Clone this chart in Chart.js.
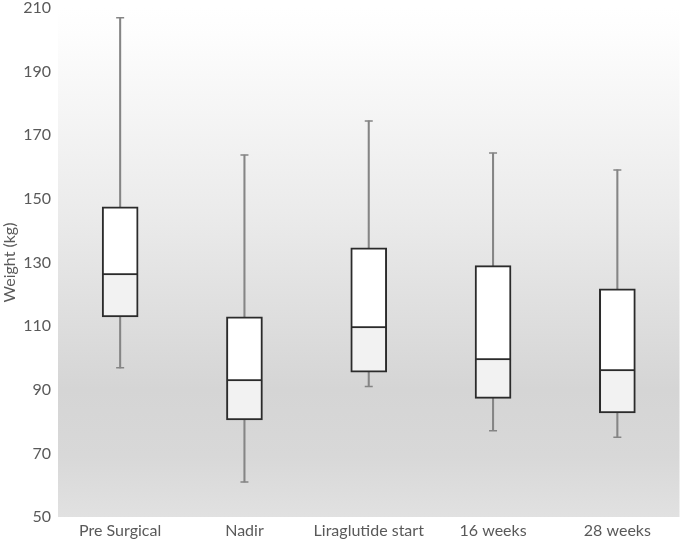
<!DOCTYPE html>
<html>
<head>
<meta charset="utf-8">
<script src="https://cdn.jsdelivr.net/npm/chart.js@4"></script>
<style>
  html, body { margin: 0; padding: 0; background: #fff; }
  #wrap { width: 685px; height: 541px; }
</style>
</head>
<body>
<div id="wrap"><canvas id="myChart"></canvas></div>
<script>
const labels = ['Pre Surgical', 'Nadir', 'Liraglutide start', '16 weeks', '28 weeks'];

// box plot values (kg)
const mins    = [96.9, 61.0, 91.0, 77.1, 75.1];
const q1s     = [112.9, 80.5, 95.5, 87.3, 82.7];
const medians = [126.1, 92.8, 109.4, 99.4, 95.9];
const q3s     = [147.5, 112.9, 134.6, 129.0, 121.7];
const maxs    = [206.9, 163.8, 174.5, 164.4, 159.1];

const yTicks = [50, 70, 90, 110, 130, 150, 170, 190, 210];

const boxBorder = '#2b2b2b';
const whiskerColor = '#858585';

const plotBackground = {
  id: 'plotBackground',
  beforeDraw(chart) {
    const { ctx, chartArea: a } = chart;
    const g = ctx.createLinearGradient(0, a.top, 0, a.bottom);
    g.addColorStop(0, '#ffffff');
    g.addColorStop(0.05, '#fdfdfd');
    g.addColorStop(0.4, '#ebebeb');
    g.addColorStop(0.75, '#d5d5d5');
    g.addColorStop(0.88, '#d8d8d8');
    g.addColorStop(1, '#e1e1e1');
    ctx.save();
    ctx.fillStyle = g;
    ctx.fillRect(a.left, a.top, a.right - a.left, a.bottom - a.top);
    ctx.restore();
  }
};

let ctx = document.querySelector('#myChart');

let grafico = new Chart(ctx, {
  type: 'bar',
  data: {
    labels: labels,
    datasets: [
      {
        type: 'line',
        label: 'max cap',
        data: maxs,
        showLine: false,
        pointStyle: 'line',
        pointRadius: 4,
        pointBorderWidth: 1.5,
        pointBorderColor: whiskerColor,
        order: 3,
      },
      {
        type: 'line',
        label: 'min cap',
        data: mins,
        showLine: false,
        pointStyle: 'line',
        pointRadius: 4,
        pointBorderWidth: 1.5,
        pointBorderColor: whiskerColor,
        order: 3,
      },
      {
        label: 'whisker',
        data: labels.map((_, i) => [mins[i], maxs[i]]),
        backgroundColor: whiskerColor,
        borderWidth: 0,
        barThickness: 1.4,
        grouped: false,
        order: 2,
      },
      {
        label: 'lower box',
        data: labels.map((_, i) => [q1s[i], medians[i]]),
        backgroundColor: '#f2f2f2',
        borderColor: boxBorder,
        borderWidth: 2,
        borderSkipped: 'top',
        barThickness: 36,
        grouped: false,
        order: 1,
      },
      {
        label: 'upper box',
        data: labels.map((_, i) => [medians[i], q3s[i]]),
        backgroundColor: '#ffffff',
        borderColor: boxBorder,
        borderWidth: 2,
        borderSkipped: false,
        barThickness: 36,
        grouped: false,
        order: 0,
      },
    ],
  },
  options: {
    responsive: true,
    maintainAspectRatio: false,
    animation: false,
    layout: { padding: { top: 8, right: 2, bottom: 0, left: 0 } },
    plugins: {
      legend: { display: false },
      tooltip: { enabled: false },
    },
    scales: {
      x: {
        grid: { display: false, drawTicks: false },
        border: { display: false },
        afterFit: (scale) => {
          scale.height = 24;
          scale.paddingLeft = 0;
          scale.paddingRight = 0;
        },
        ticks: {
          color: '#595959',
          font: { family: 'Lato', size: 16 },
          padding: 4,
        },
      },
      y: {
        min: 50,
        max: 210,
        afterBuildTicks: (scale) => { scale.ticks = yTicks.map(v => ({ value: v })); },
        afterFit: (scale) => {
          scale.width = 58;
          scale.paddingTop = 0;
          scale.paddingBottom = 0;
        },
        grid: { display: false, drawTicks: false },
        border: { display: false },
        ticks: {
          color: '#595959',
          font: { family: 'Lato', size: 16 },
          padding: 7,
        },
        title: {
          display: true,
          text: 'Weight (kg)',
          color: '#595959',
          font: { family: 'Lato', size: 16 },
          padding: { top: 0, bottom: 0 },
        },
      },
    },
  },
  plugins: [plotBackground],
});
</script>
</body>
</html>
